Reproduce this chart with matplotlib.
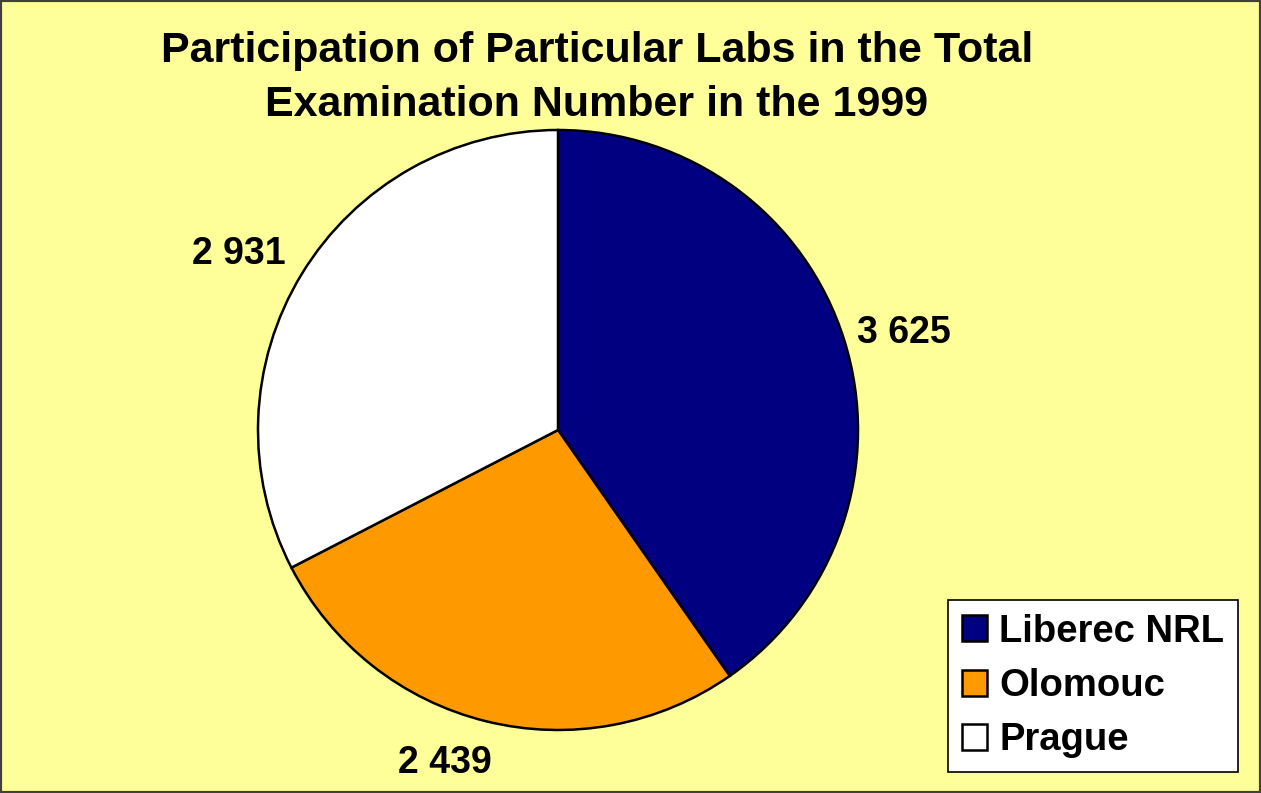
import numpy as np
import matplotlib.pyplot as plt
from matplotlib.patches import Rectangle

labs = ["Liberec NRL", "Olomouc", "Prague"]
exams = [3625, 2439, 2931]
colors = ["#000080", "#FF9900", "#FFFFFF"]
title = "Participation of Particular Labs in the Total\nExamination Number in the 1999"

plt.rcParams['font.family'] = ['Liberation Sans', 'DejaVu Sans']

fig = plt.figure(figsize=(12.61, 7.93), dpi=100)
fig.patch.set_facecolor("#FFFF99")
fig.patches.append(Rectangle((0, 0), 1, 1, transform=fig.transFigure, fill=False,
                             edgecolor="#404040", linewidth=3))

# pie axes: centre ~ (558, 430) px, radius ~ 300 px
ax = fig.add_axes([(558 - 300) / 1261, 1 - (430 + 300) / 793, 600 / 1261, 600 / 793])
ax.set_facecolor("none")

total = sum(exams)

wedges, _ = ax.pie(exams, colors=colors, startangle=90, counterclock=False,
                   wedgeprops=dict(edgecolor="black", linewidth=1.8),
                   radius=1)

# label placement: distance from centre and small angle nudge (deg)
dists = [1.20, 1.16, 1.22]
nudge = [-1.2, -5.1, 1.9]
for w, v, d, da in zip(wedges, exams, dists, nudge):
    ang = np.deg2rad((w.theta1 + w.theta2) / 2 + da)
    ax.text(d * np.cos(ang), d * np.sin(ang), f"{v:,}".replace(",", " "),
            ha="center", va="center_baseline", fontsize=27, fontweight="bold")
ax.set_xlim(-1, 1)
ax.set_ylim(-1, 1)
ax.set_aspect("equal")
ax.axis("off")

fig.text(597 / 1261, 1 - 31 / 793, title, ha="center", va="top",
         fontsize=31, fontweight="bold", linespacing=1.45)

leg = fig.legend(wedges, labs, loc="upper left",
                 bbox_to_anchor=(948 / 1261, 1 - 600 / 793),
                 frameon=True, fancybox=False, edgecolor="black",
                 facecolor="white", framealpha=1,
                 prop=dict(size=27.5, weight="bold"),
                 handlelength=0.66, handleheight=0.66, handletextpad=0.32,
                 labelspacing=0.48, borderpad=0.36, borderaxespad=0)
leg.get_frame().set_linewidth(1.2)

fig.savefig("out.png", dpi=100, facecolor=fig.get_facecolor())
